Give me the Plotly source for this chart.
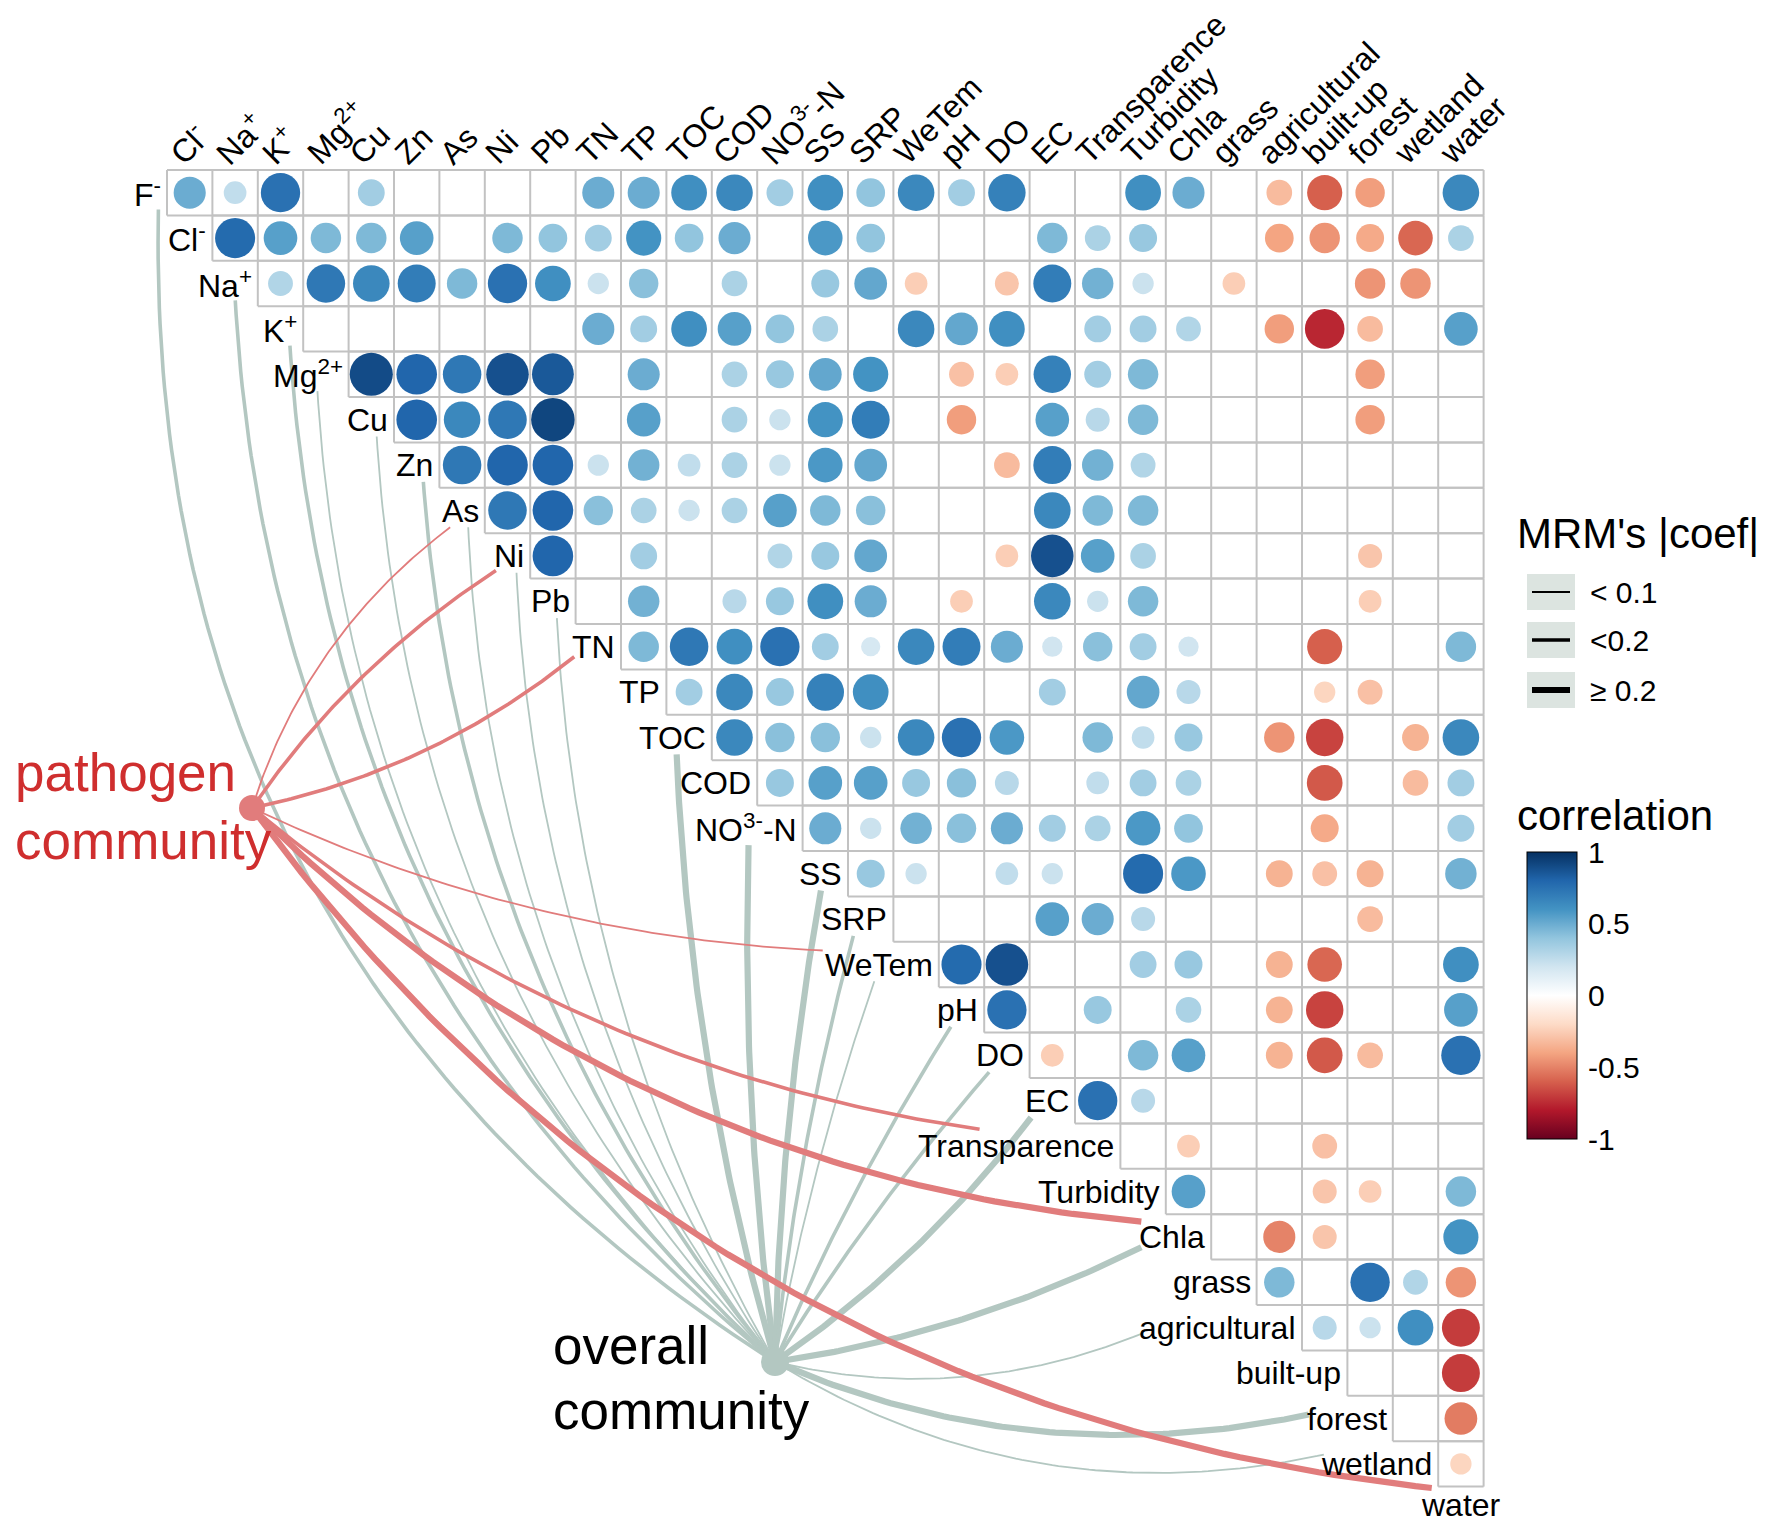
import math
import re
import plotly.graph_objects as go

# ======================= DATA =======================
variables = ["F-", "Cl-", "Na+", "K+", "Mg2+", "Cu", "Zn", "As", "Ni", "Pb",
             "TN", "TP", "TOC", "COD", "NO3-N", "SS", "SRP", "WeTem", "pH", "DO",
             "EC", "Transparence", "Turbidity", "Chla", "grass", "agricultural",
             "built-up", "forest", "wetland", "water"]

# display text of the variable names (superscripts)
var_text = {"F-": "F<sup>-</sup>", "Cl-": "Cl<sup>-</sup>", "Na+": "Na<sup>+</sup>",
            "K+": "K<sup>+</sup>", "Mg2+": "Mg<sup>2+</sup>", "NO3-N": "NO<sup>3-</sup>-N"}

N = None
# row i holds the significant correlations of variables[i] with variables[i+1 ...]
corr_rows = [
    # F-
    [0.5, 0.25, 0.75, N, 0.35, N, N, N, N, 0.5, 0.5, 0.62, 0.65, 0.35, 0.62, 0.4, 0.65, 0.35, 0.68,
     N, N, 0.62, 0.5, N, -0.32, -0.6, -0.42, N, 0.65],
    # Cl-
    [0.78, 0.55, 0.45, 0.45, 0.55, N, 0.45, 0.4, 0.35, 0.6, 0.4, 0.5, N, 0.58, 0.4, N, N, N,
     0.45, 0.32, 0.38, N, N, -0.4, -0.45, -0.38, -0.58, 0.32],
    # Na+
    [0.3, 0.72, 0.65, 0.7, 0.45, 0.75, 0.62, 0.22, 0.42, N, 0.32, N, 0.38, 0.52, -0.25, N, -0.28,
     0.7, 0.48, 0.22, N, -0.25, N, N, -0.45, -0.45, N],
    # K+
    [N, N, N, N, N, N, 0.5, 0.35, 0.62, 0.55, 0.4, 0.32, N, 0.65, 0.52, 0.62, N, 0.35, 0.35, 0.3,
     N, -0.42, -0.76, -0.32, N, 0.55],
    # Mg2+
    [0.9, 0.8, 0.72, 0.88, 0.85, N, 0.5, N, 0.32, 0.38, 0.52, 0.6, N, -0.3, -0.25, 0.68, 0.35, 0.45,
     N, N, N, N, -0.42, N, N],
    # Cu
    [0.8, 0.65, 0.72, 0.92, N, 0.55, N, 0.32, 0.22, 0.6, 0.7, N, -0.42, N, 0.55, 0.28, 0.45,
     N, N, N, N, -0.42, N, N],
    # Zn
    [0.72, 0.8, 0.8, 0.22, 0.48, 0.25, 0.32, 0.22, 0.58, 0.52, N, N, -0.32, 0.7, 0.48, 0.3,
     N, N, N, N, N, N, N],
    # As
    [0.72, 0.8, 0.42, 0.32, 0.22, 0.32, 0.55, 0.45, 0.42, N, N, N, 0.65, 0.45, 0.45,
     N, N, N, N, N, N, N],
    # Ni
    [0.8, N, 0.35, N, N, 0.3, 0.38, 0.52, N, N, -0.25, 0.88, 0.55, 0.32, N, N, N, N, -0.28, N, N],
    # Pb
    [N, 0.48, N, 0.28, 0.38, 0.62, 0.5, N, -0.25, N, 0.65, 0.22, 0.45, N, N, N, N, -0.25, N, N],
    # TN
    [0.45, 0.72, 0.62, 0.75, 0.35, 0.18, 0.65, 0.7, 0.5, 0.2, 0.42, 0.35, 0.2, N, N, -0.6, N, N, 0.45],
    # TP
    [0.35, 0.65, 0.38, 0.68, 0.62, N, N, N, 0.35, N, 0.52, 0.28, N, N, -0.22, -0.3, N, N],
    # TOC
    [0.65, 0.42, 0.42, 0.22, 0.65, 0.75, 0.58, N, 0.45, 0.25, 0.38, N, -0.45, -0.68, N, -0.35, 0.65],
    # COD
    [0.38, 0.55, 0.55, 0.38, 0.42, 0.28, N, 0.25, 0.35, 0.32, N, N, -0.62, N, -0.32, 0.35],
    # NO3-N
    [0.5, 0.22, 0.48, 0.42, 0.5, 0.35, 0.32, 0.58, 0.4, N, N, -0.38, N, N, 0.35],
    # SS
    [0.38, 0.22, N, 0.25, 0.22, N, 0.78, 0.58, N, -0.35, -0.3, -0.35, N, 0.48],
    # SRP
    [N, N, N, 0.55, 0.5, 0.28, N, N, N, N, -0.32, N, N],
    # WeTem
    [0.78, 0.88, N, N, 0.35, 0.38, N, -0.35, -0.58, N, N, 0.62],
    # pH
    [0.75, N, 0.38, N, 0.32, N, -0.35, -0.68, N, N, 0.55],
    # DO
    [-0.25, N, 0.45, 0.55, N, -0.35, -0.62, -0.32, N, 0.75],
    # EC
    [0.75, 0.28, N, N, N, N, N, N, N],
    # Transparence
    [N, -0.25, N, N, -0.3, N, N, N],
    # Turbidity
    [0.55, N, N, -0.28, -0.25, N, 0.45],
    # Chla
    [N, -0.5, -0.28, N, N, 0.6],
    # grass
    [0.45, N, 0.75, 0.3, -0.45],
    # agricultural
    [0.28, 0.22, 0.62, -0.7],
    # built-up
    [N, N, -0.7],
    # forest
    [N, -0.52],
    # wetland
    [-0.22],
]

# MRM links (community -> environmental variable, |coef| class)
pathogen_env = ["As", "Ni", "TN", "WeTem", "Transparence", "Chla", "water"]
pathogen_coef = ["< 0.1", "<0.2", "<0.2", "< 0.1", "<0.2", "≥ 0.2", "≥ 0.2"]

overall_env = ["F-", "Na+", "K+", "Mg2+", "Cu", "Zn", "As", "Ni", "Pb", "TOC", "NO3-N", "SS",
               "SRP", "WeTem", "pH", "DO", "EC", "Chla", "agricultural", "forest", "wetland"]
overall_coef = ["<0.2", "<0.2", "<0.2", "< 0.1", "< 0.1", "<0.2", "< 0.1", "< 0.1", "< 0.1",
                "≥ 0.2", "≥ 0.2", "≥ 0.2", "<0.2", "< 0.1", "<0.2", "<0.2", "≥ 0.2", "≥ 0.2",
                "< 0.1", "≥ 0.2", "< 0.1"]

coef_classes = ["< 0.1", "<0.2", "≥ 0.2"]
colorbar_ticks = [-1, -0.5, 0, 0.5, 1]
colorbar_ticktext = ["-1", "-0.5", "0", "0.5", "1"]

# ======================= STYLE / LAYOUT =======================
W, H = 1772, 1531                # screenshot size
PAGE_MARGIN = 8                  # default body margin of the html page
FIG_W, FIG_H = W - 2 * PAGE_MARGIN, H - 2 * PAGE_MARGIN
CELL = 45.4                      # pixels per matrix cell
GRID_LEFT_PX, GRID_TOP_PX = 167, 170
FONT = "Liberation Sans, Arial, Helvetica, sans-serif"
LABEL_SIZE = 32
LABEL_PAD = 0.09
LABEL_HALF_H = 0.37
HEADER_DX, HEADER_Y = -0.7, -0.42
CIRCLE_SCALE = 1.0
GRID_COLOR = "#C2C2C2"
RED_LINK = "#E17C7C"
GRAY_LINK = "#B3C7C1"
RED_TEXT = "#CF2E2E"
LINE_W = {"< 0.1": 1.8, "<0.2": 3.6, "≥ 0.2": 6.2}

# signed bend of each curve (fraction of chord length, + = bulge to the left of node->variable)
pathogen_bend = [0.08, 0.05, -0.06, -0.05, -0.07, -0.09, -0.11]
overall_bend = [0.14, 0.11, 0.10, 0.10, 0.09, 0.08, 0.08, 0.07, 0.06, 0.03, 0.02, 0.02,
                0.02, 0.02, 0.02, 0.02, -0.04, -0.04, -0.08, -0.08, -0.10]

RDBU = [[0.0, "#67001F"], [0.1, "#B2182B"], [0.2, "#D6604D"], [0.3, "#F4A582"], [0.4, "#FDDBC7"],
        [0.5, "#FFFFFF"], [0.6, "#D1E5F0"], [0.7, "#92C5DE"], [0.8, "#4393C3"], [0.9, "#2166AC"],
        [1.0, "#053061"]]


def px2x(px):
    return 0.5 + (px - GRID_LEFT_PX) / CELL


def px2y(py):
    return -0.5 + (py - GRID_TOP_PX) / CELL


def ppx(px):
    return (px - PAGE_MARGIN) / FIG_W


def ppy(py):
    return 1 - (py - PAGE_MARGIN) / FIG_H


X_RANGE = [px2x(PAGE_MARGIN), px2x(W - PAGE_MARGIN)]
Y_RANGE = [px2y(H - PAGE_MARGIN), px2y(PAGE_MARGIN)]   # reversed axis

PATHOGEN_NODE = (px2x(252), px2y(808))
OVERALL_NODE = (px2x(775), px2y(1362))

AW = {'A': .667, 'B': .667, 'C': .722, 'D': .722, 'E': .667, 'F': .611, 'G': .778, 'H': .722,
      'I': .278, 'K': .667, 'L': .556, 'M': .833, 'N': .722, 'O': .778, 'P': .667, 'R': .722,
      'S': .667, 'T': .611, 'W': .944, 'Z': .611, 'a': .556, 'b': .556, 'c': .5, 'd': .556,
      'e': .556, 'f': .278, 'g': .556, 'h': .556, 'i': .222, 'l': .222, 'm': .833, 'n': .556,
      'o': .556, 'p': .556, 'r': .333, 's': .5, 't': .278, 'u': .556, 'w': .722, 'y': .5,
      '-': .333, '+': .584, '2': .556, '3': .556, ' ': .278}


def text_width_cells(html):
    total = 0.0
    for part in re.split(r'(<sup>.*?</sup>)', html):
        if part.startswith('<sup>'):
            total += 0.7 * sum(AW.get(c, .556) for c in part[5:-6])
        else:
            total += sum(AW.get(c, .556) for c in part)
    return total * LABEL_SIZE / CELL


n = len(variables)

# label boxes on the diagonal
label_box = {}
for k, v in enumerate(variables):
    html = var_text.get(v, v)
    w = text_width_cells(html)
    if k < n - 1:
        xpos, anchor, cyl = k + 0.5 - LABEL_PAD, "right", k
        cxl = xpos - w / 2
    else:                      # last variable has no row: label centred on its diagonal spot
        xpos, anchor, cyl = k, "center", k - 0.1
        cxl = k
    label_box[v] = dict(html=html, x=xpos, anchor=anchor, cx=cxl, cy=cyl, hw=w / 2)

fig = go.Figure()

# ---- grid ----
gx, gy = [], []
for i in range(n - 1):
    xl, xr = i + 0.5, n - 0.5
    gx += [xl, xr, None, xl, xr, None]
    gy += [i - 0.5, i - 0.5, None, i + 0.5, i + 0.5, None]
    for b in range(i + 1, n + 1):
        gx += [b - 0.5, b - 0.5, None]
        gy += [i - 0.5, i + 0.5, None]
fig.add_trace(go.Scatter(x=gx, y=gy, mode="lines", line=dict(color=GRID_COLOR, width=2),
                         hoverinfo="skip"))

# ---- circles ----
cx, cy, cv = [], [], []
for i, row in enumerate(corr_rows):
    for j, val in enumerate(row):
        if val is None:
            continue
        cx.append(i + 1 + j)
        cy.append(i)
        cv.append(val)
sizes = [CIRCLE_SCALE * math.sqrt(abs(v)) * CELL for v in cv]

CB_LEFT, CB_TOP, CB_LEN, CB_THICK = 1527, 852, 287, 50
fig.add_trace(go.Scatter(
    x=cx, y=cy, mode="markers",
    marker=dict(size=sizes, color=cv, colorscale=RDBU, cmin=-1, cmax=1, line=dict(width=0),
                opacity=1,
                colorbar=dict(x=ppx(CB_LEFT), xanchor="left", y=ppy(CB_TOP), yanchor="top",
                              len=CB_LEN, lenmode="pixels", thickness=CB_THICK,
                              thicknessmode="pixels", outlinecolor="black", outlinewidth=1,
                              xpad=0, ypad=0, tickvals=colorbar_ticks, ticktext=colorbar_ticktext,
                              ticks="outside", ticklen=5, tickcolor="rgba(0,0,0,0)",
                              tickfont=dict(family=FONT, size=30, color="black"))),
    hovertemplate="%{marker.color}<extra></extra>"))


# ---- links ----
def endpoint(var, node):
    b = label_box[var]
    dx, dy = node[0] - b["cx"], node[1] - b["cy"]
    t = min(b["hw"] / abs(dx) if dx else 1e9, LABEL_HALF_H / abs(dy) if dy else 1e9)
    return b["cx"] + t * dx, b["cy"] + t * dy


def curve(p0, p1, bend, npts=90):
    (x0, y0), (x1, y1) = p0, p1
    dx, dy = x1 - x0, y1 - y0
    L = math.hypot(dx, dy)
    nx, ny = dy / L, -dx / L          # left of travel (y axis points down)
    qx = (x0 + x1) / 2 + 2 * bend * L * nx
    qy = (y0 + y1) / 2 + 2 * bend * L * ny
    ts = [i / npts for i in range(npts + 1)]
    xs = [(1 - t) ** 2 * x0 + 2 * t * (1 - t) * qx + t * t * x1 for t in ts]
    ys = [(1 - t) ** 2 * y0 + 2 * t * (1 - t) * qy + t * t * y1 for t in ts]
    return xs, ys


for env, coef, bend in zip(overall_env, overall_coef, overall_bend):
    xs, ys = curve(OVERALL_NODE, endpoint(env, OVERALL_NODE), bend)
    fig.add_trace(go.Scatter(x=xs, y=ys, mode="lines",
                             line=dict(color=GRAY_LINK, width=LINE_W[coef]), hoverinfo="skip"))
for env, coef, bend in zip(pathogen_env, pathogen_coef, pathogen_bend):
    xs, ys = curve(PATHOGEN_NODE, endpoint(env, PATHOGEN_NODE), bend)
    fig.add_trace(go.Scatter(x=xs, y=ys, mode="lines",
                             line=dict(color=RED_LINK, width=LINE_W[coef]), hoverinfo="skip"))

fig.add_trace(go.Scatter(x=[PATHOGEN_NODE[0]], y=[PATHOGEN_NODE[1]], mode="markers",
                         marker=dict(size=26, color=RED_LINK), hoverinfo="skip"))
fig.add_trace(go.Scatter(x=[OVERALL_NODE[0]], y=[OVERALL_NODE[1]], mode="markers",
                         marker=dict(size=28, color=GRAY_LINK), hoverinfo="skip"))

annotations = []
# ---- column headers ----
for b in range(1, n):
    v = variables[b]
    annotations.append(dict(x=b + HEADER_DX, y=HEADER_Y, xref="x", yref="y",
                            text=var_text.get(v, v), showarrow=False, textangle=-45,
                            xanchor="left", yanchor="bottom",
                            font=dict(family=FONT, size=LABEL_SIZE, color="black")))
# ---- diagonal labels ----
for v in variables:
    b = label_box[v]
    annotations.append(dict(x=b["x"], y=b["cy"], xref="x", yref="y", text=b["html"],
                            showarrow=False, xanchor=b["anchor"], yanchor="middle",
                            font=dict(family=FONT, size=LABEL_SIZE, color="black")))
# ---- community names ----
for txt, px, py, col in [("pathogen", 13, 772, RED_TEXT), ("community", 13, 840, RED_TEXT),
                         ("overall", 551, 1345, "black"), ("community", 551, 1410, "black")]:
    annotations.append(dict(x=px2x(px), y=px2y(py), xref="x", yref="y", text=txt,
                            showarrow=False, xanchor="left", yanchor="middle",
                            font=dict(family=FONT, size=53, color=col)))

# ---- legends ----
annotations.append(dict(x=ppx(1515), y=ppy(533), xref="paper", yref="paper",
                        text="MRM's |coef|", showarrow=False, xanchor="left", yanchor="middle",
                        font=dict(family=FONT, size=42, color="black")))
annotations.append(dict(x=ppx(1515), y=ppy(815), xref="paper", yref="paper",
                        text="correlation", showarrow=False, xanchor="left", yanchor="middle",
                        font=dict(family=FONT, size=42, color="black")))
shapes = []
KEY_Y = [592, 640, 690]
for cls, ky in zip(coef_classes, KEY_Y):
    shapes.append(dict(type="rect", xref="paper", yref="paper", x0=ppx(1527), x1=ppx(1575),
                       y0=ppy(ky + 18), y1=ppy(ky - 18), fillcolor="#DCE4E0",
                       line=dict(width=0), layer="above"))
    shapes.append(dict(type="line", xref="paper", yref="paper", x0=ppx(1532), x1=ppx(1570),
                       y0=ppy(ky), y1=ppy(ky), line=dict(color="black", width=LINE_W[cls]),
                       layer="above"))
    annotations.append(dict(x=ppx(1588), y=ppy(ky), xref="paper", yref="paper", text=cls,
                            showarrow=False, xanchor="left", yanchor="middle",
                            font=dict(family=FONT, size=30, color="black")))
# white separators on the colour bar
for v in colorbar_ticks[1:-1]:
    yy = CB_TOP + (1 - v) / 2 * CB_LEN
    shapes.append(dict(type="line", xref="paper", yref="paper", x0=ppx(CB_LEFT + 1),
                       x1=ppx(CB_LEFT + CB_THICK - 1), y0=ppy(yy), y1=ppy(yy),
                       line=dict(color="white", width=3), layer="above"))

fig.update_layout(width=FIG_W, height=FIG_H, margin=dict(l=0, r=0, t=0, b=0),
                  paper_bgcolor="white", plot_bgcolor="white", showlegend=False,
                  xaxis=dict(range=X_RANGE, visible=False, fixedrange=True),
                  yaxis=dict(range=Y_RANGE, visible=False, fixedrange=True),
                  annotations=annotations, shapes=shapes)

fig.write_html("out.html")
